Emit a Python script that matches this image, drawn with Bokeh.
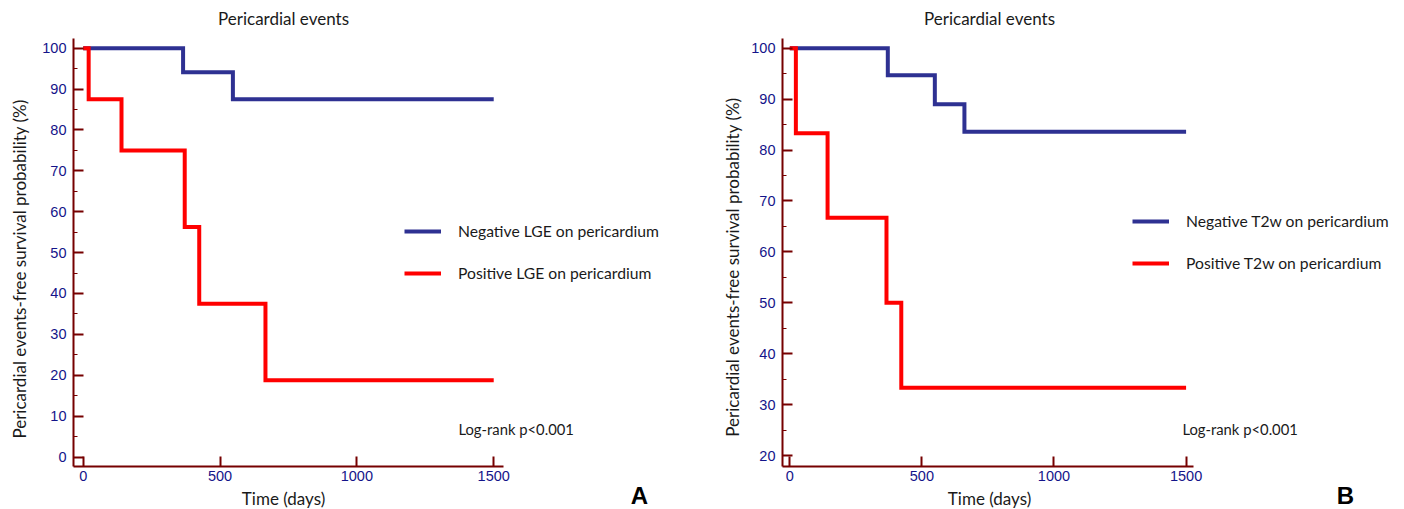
import math
from bokeh.plotting import figure
from bokeh.layouts import row
from bokeh.models import Range1d, FixedTicker, Label, Legend, LegendItem, LinearAxis
from bokeh.embed import file_html
from bokeh.resources import INLINE

# ---- data ----
a_neg_t = [0, 365, 547, 1500]
a_neg_s = [100, 94.1, 87.5, 87.5]
a_pos_t = [0, 20, 140, 371, 424, 666, 1500]
a_pos_s = [100, 87.5, 75.0, 56.25, 37.5, 18.75, 18.75]

b_neg_t = [0, 371, 549, 661, 1500]
b_neg_s = [100, 94.7, 89.0, 83.6, 83.6]
b_pos_t = [0, 23, 143, 366, 422, 1500]
b_pos_s = [100, 83.3, 66.7, 50.0, 33.3, 33.3]

x_ticks = [0, 500, 1000, 1500]
a_y_ticks = list(range(0, 101, 10))
b_y_ticks = list(range(20, 101, 10))

title_text = "Pericardial events"
x_label = "Time (days)"
y_label = "Pericardial events-free survival probability (%)"
a_legend = ["Negative LGE on pericardium", "Positive LGE on pericardium"]
b_legend = ["Negative T2w on pericardium", "Positive T2w on pericardium"]
logrank = "Log-rank p<0.001"

AXIS = "#760000"
TICKLBL = "#14148a"
BLUE = "#2e3192"
RED = "#ff0000"
TXT = "#1a1a1a"
LBL_FONT = "Lato"


def text_axis(text, pos, standoff, font, size, style="normal", color=TXT,
              orientation="horizontal"):
    return LinearAxis(ticker=FixedTicker(ticks=[pos], minor_ticks=[]),
                      axis_line_color=None, major_tick_line_color=None,
                      minor_tick_line_color=None, major_tick_in=0, major_tick_out=0,
                      minor_tick_in=0, minor_tick_out=0,
                      major_label_overrides={pos: text}, major_label_standoff=standoff,
                      major_label_text_font=font, major_label_text_font_size=size,
                      major_label_text_font_style=style, major_label_text_color=color,
                      major_label_orientation=orientation)


def make_panel(frame_w, border_left, border_right, xr, xbounds, yr, yticks,
               neg_t, neg_s, pos_t, pos_s, legend_labels, legend_loc,
               label_x, ylabel_y, ylabel_standoff, logrank_xy, letter, letter_x):
    p = figure(frame_width=frame_w, frame_height=428, output_backend="svg",
               toolbar_location=None,
               x_range=Range1d(*xr), y_range=Range1d(*yr),
               min_border_left=border_left, min_border_right=border_right,
               min_border_top=38, min_border_bottom=0)
    p.outline_line_color = None
    p.grid.visible = False
    p.background_fill_color = "white"
    p.border_fill_color = "white"

    for ax in (p.xaxis[0], p.yaxis[0]):
        ax.axis_line_color = AXIS
        ax.axis_line_width = 2
        ax.major_tick_line_color = AXIS
        ax.major_tick_line_width = 2
        ax.minor_tick_line_color = AXIS
        ax.minor_tick_line_width = 1
        ax.major_tick_in = 10
        ax.major_tick_out = 0
        ax.minor_tick_in = 4
        ax.minor_tick_out = 0
        ax.major_label_text_color = TICKLBL
        ax.major_label_text_font = "Liberation Sans"
        ax.major_label_text_font_size = "14.5px"

    xa = p.xaxis[0]
    xa.ticker = FixedTicker(ticks=x_ticks, minor_ticks=[])
    xa.bounds = xbounds
    xa.major_label_standoff = 4

    ya = p.yaxis[0]
    minor = [t + 5 for t in yticks[:-1]]
    ya.ticker = FixedTicker(ticks=yticks, minor_ticks=minor)
    ya.major_label_standoff = 7

    # texts outside the frame, carried by unticked helper axes at data positions
    p.add_layout(text_axis(title_text, label_x, 10, LBL_FONT, "17px"), "above")
    p.add_layout(text_axis(y_label, ylabel_y, ylabel_standoff, LBL_FONT, "17px",
                           orientation="vertical"), "left")
    p.add_layout(text_axis(x_label, label_x, 4, LBL_FONT, "17px"), "below")
    p.add_layout(text_axis(letter, letter_x, -30, "Liberation Sans", "24px", "bold", "black"),
                 "below")

    r1 = p.step(neg_t, neg_s, mode="after", line_color=BLUE, line_width=4, line_join="miter")
    r2 = p.step(pos_t, pos_s, mode="after", line_color=RED, line_width=4, line_join="miter")

    leg = Legend(items=[LegendItem(label=legend_labels[0], renderers=[r1]),
                        LegendItem(label=legend_labels[1], renderers=[r2])],
                 location=legend_loc, orientation="vertical",
                 border_line_color=None, background_fill_alpha=0,
                 padding=0, margin=0, spacing=22,
                 glyph_width=37, glyph_height=20, label_height=20,
                 label_standoff=17, label_text_font=LBL_FONT,
                 label_text_font_size="15.7px", label_text_color=TXT,
                 label_text_baseline="middle")
    p.add_layout(leg, "center")

    p.add_layout(Label(x=logrank_xy[0], y=logrank_xy[1], text=logrank, text_align="left",
                       text_baseline="middle", text_font=LBL_FONT, text_font_size="14.8px",
                       text_color=TXT))
    return p


pa = make_panel(617, 73, 18, (-35.4, 2219), (-35.4, 1537), (-2.32, 102.37), a_y_ticks,
                a_neg_t, a_neg_s, a_pos_t, a_pos_s, a_legend, (331, 183.5),
                732, 46, 9, (1371, 6.97), "A", 2032)
pb = make_panel(616, 74, 6, (-27.6, 2304), (-27.6, 1529), (17.84, 101.9), b_y_ticks,
                b_neg_t, b_neg_s, b_pos_t, b_pos_s, b_legend, (350, 193.5),
                756, 57, 5, (1486, 25.3), "B", 2103)

layout = row(pa, pb)
open("out.html", "w").write(file_html(layout, INLINE))
